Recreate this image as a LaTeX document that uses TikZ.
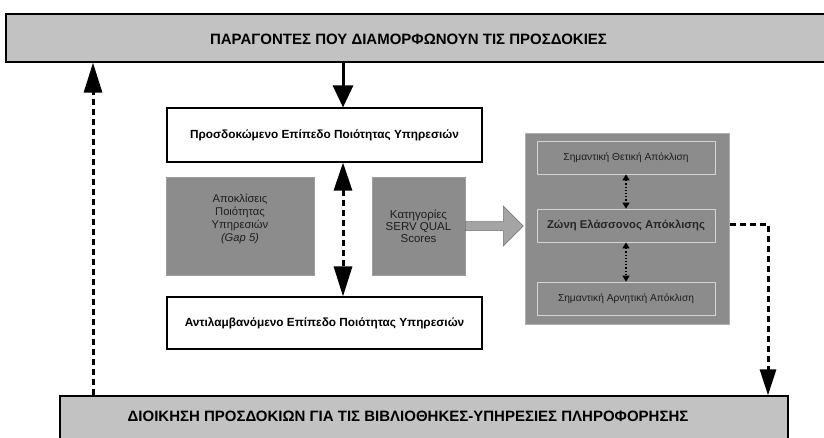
\documentclass[tikz,border=0pt]{standalone}
\usepackage{fontspec}
\setmainfont{Liberation Sans}
\usetikzlibrary{arrows.meta,calc}
\definecolor{barfill}{HTML}{C2C2C2}
\definecolor{boxgray}{HTML}{8C8C8C}
\definecolor{txtgray}{HTML}{1E1E1E}
\definecolor{blockfill}{HTML}{A4A4A4}
\definecolor{innerline}{HTML}{D4D4D4}
\tikzset{
  bar/.style={draw=black, line width=1.3pt, fill=barfill, inner sep=0pt},
  bartext/.style={font=\fontsize{15}{17}\selectfont\bfseries, text=black, inner sep=0pt},
  levelbox/.style={draw=black, line width=1.1pt, fill=white, minimum width=315pt, minimum height=54pt,
    font=\fontsize{11.8}{14}\selectfont\bfseries, inner sep=0pt},
  graybox/.style={draw=boxgray!85!white, line width=0.6pt, fill=boxgray, minimum height=98pt,
    font=\fontsize{11.2}{13}\selectfont, text=txtgray, align=center, inner sep=0pt},
  panel/.style={fill=boxgray, draw=boxgray!70!white, line width=0.6pt, minimum width=204pt, minimum height=191pt, inner sep=0pt},
  zonebox/.style={draw=innerline, line width=0.8pt, fill=boxgray, minimum width=178pt, minimum height=33pt,
    font=\fontsize{10.2}{12}\selectfont, text=txtgray, inner sep=0pt},
  bigdash/.style={line width=3pt, dash pattern=on 6pt off 4pt},
  smalldot/.style={line width=1.2pt, dotted, {Triangle[length=6pt,width=7pt]}-{Triangle[length=6pt,width=7pt]}}
}
\begin{document}
\begin{tikzpicture}[x=1pt,y=-1pt]
\useasboundingbox (0,0) rectangle (824,437);
\clip (0,0) rectangle (824,437);

% bars
\node[bar, minimum width=830pt, minimum height=48pt] (top) at (421,38) {};
\node[bartext] (toptext) at (408.5,39) {ΠΑΡΑΓΟΝΤΕΣ ΠΟΥ ΔΙΑΜΟΡΦΩΝΟΥΝ ΤΙΣ ΠΡΟΣΔΟΚΙΕΣ};
\node[bar, minimum width=728pt, minimum height=52pt] (bottom) at (424,422) {};
\node[bartext] (bottomtext) at (408,416) {ΔΙΟΙΚΗΣΗ ΠΡΟΣΔΟΚΙΩΝ ΓΙΑ ΤΙΣ ΒΙΒΛΙΟΘΗΚΕΣ-ΥΠΗΡΕΣΙΕΣ ΠΛΗΡΟΦΟΡΗΣΗΣ};

% level boxes
\node[levelbox] (expected) at (324.5,135) {Προσδοκώμενο Επίπεδο Ποιότητας Υπηρεσιών};
\node[levelbox, minimum height=52pt] (perceived) at (324.5,323) {Αντιλαμβανόμενο Επίπεδο Ποιότητας Υπηρεσιών};

% gray boxes
\node[graybox, minimum width=148pt] (gap) at (240,226) {Αποκλίσεις\\Ποιότητας\\Υπηρεσιών\\\textit{(Gap 5)}\\[4pt]};
\node[graybox, minimum width=93pt, font=\fontsize{11.5}{12}\selectfont] (cat) at (418.5,226) {Κατηγορίες\\SERV QUAL\\Scores};

% block arrow
\fill[blockfill, draw=boxgray!80!black, line width=0.5pt]
  ($(cat.east)+(0,-4.5)$) -- ++(38,0) -- ++(0,-15.5) -- ++(20,20) -- ++(-20,20) -- ++(0,-15.5) -- ($(cat.east)+(0,4.5)$) -- cycle;

% right panel
\node[panel] (panel) at (627,228.5) {};
\node[zonebox] (positive) at (626,157.5) {Σημαντική Θετική Απόκλιση};
\node[zonebox, font=\fontsize{11.3}{13}\selectfont\bfseries, text=black!85] (minor) at (626,225.5) {Ζώνη Ελάσσονος Απόκλισης};
\node[zonebox] (negative) at (626,298.5) {Σημαντική Αρνητική Απόκλιση};
\draw[smalldot] (positive.south) -- (minor.north);
\draw[smalldot] (minor.south) -- (negative.north);

% connectors
\coordinate (midx) at (343,0);
\coordinate (leftx) at (93,0);
\coordinate (rightx) at (768,0);
\draw[line width=3pt, -{Triangle[length=22pt,width=20pt]}] (top.south -| midx) -- (expected.north -| midx);
\draw[bigdash, {Triangle[length=28pt,width=18pt]}-{Triangle[length=30pt,width=18pt]}] (expected.south -| midx) -- (perceived.north -| midx);
\draw[bigdash, -{Triangle[length=30pt,width=18pt]}] (bottom.north -| leftx) -- (top.south -| leftx);
\draw[bigdash, -{Triangle[length=26pt,width=16pt]}] ($(minor.center -| panel.east)+(1,-1.5)$) -| (bottom.north -| rightx);
\end{tikzpicture}
\end{document}
